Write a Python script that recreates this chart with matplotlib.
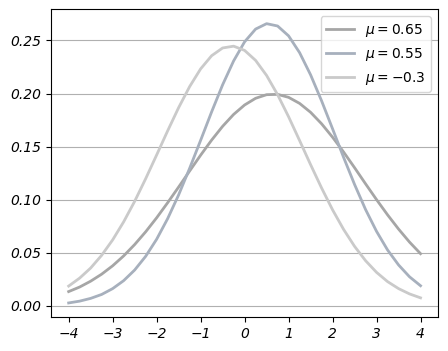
import matplotlib
matplotlib.use("Agg")
import matplotlib.pyplot as plt

x = [-4.0, -3.75, -3.5, -3.25, -3.0, -2.75, -2.5, -2.25, -2.0, -1.75, -1.5, -1.25,
     -1.0, -0.75, -0.5, -0.25, 0.0, 0.25, 0.5, 0.75, 1.0, 1.25, 1.5, 1.75,
     2.0, 2.25, 2.5, 2.75, 3.0, 3.25, 3.5, 3.75, 4.0]

y_mu_065 = [0.0134, 0.0177, 0.0232, 0.0298, 0.0377, 0.0470, 0.0577, 0.0697, 0.0829,
            0.0971, 0.1119, 0.1270, 0.1419, 0.1561, 0.1691, 0.1803, 0.1892, 0.1955,
            0.1989, 0.1992, 0.1964, 0.1907, 0.1823, 0.1715, 0.1588, 0.1449, 0.1301,
            0.1149, 0.1000, 0.0857, 0.0723, 0.0600, 0.0491]

y_mu_055 = [0.0027, 0.0044, 0.0070, 0.0107, 0.0162, 0.0237, 0.0337, 0.0466, 0.0627,
            0.0821, 0.1045, 0.1295, 0.1559, 0.1827, 0.2082, 0.2307, 0.2487, 0.2607,
            0.2658, 0.2636, 0.2543, 0.2385, 0.2176, 0.1931, 0.1667, 0.1399, 0.1143,
            0.0907, 0.0701, 0.0526, 0.0385, 0.0273, 0.0189]

y_mu_m03 = [0.0186, 0.0261, 0.0356, 0.0476, 0.0621, 0.0791, 0.0984, 0.1197, 0.1421,
            0.1648, 0.1867, 0.2065, 0.2232, 0.2356, 0.2429, 0.2446, 0.2406, 0.2312,
            0.2170, 0.1989, 0.1781, 0.1557, 0.1330, 0.1110, 0.0904, 0.0720, 0.0560,
            0.0425, 0.0315, 0.0228, 0.0162, 0.0112, 0.0075]

labels = [r"$\mu = 0.65$", r"$\mu = 0.55$", r"$\mu = -0.3$"]
colors = ["#a6a6a6", "#a7b0bd", "#cacaca"]
yticks = [0.00, 0.05, 0.10, 0.15, 0.20, 0.25]
xticks = [-4, -3, -2, -1, 0, 1, 2, 3, 4]

fig = plt.figure(figsize=(4.48, 3.51), dpi=100)
ax = fig.add_axes([0.114, 0.097, 0.864, 0.877])

for ys, lab, c in zip([y_mu_065, y_mu_055, y_mu_m03], labels, colors):
    ax.plot(x, ys, color=c, lw=2, label=lab, solid_joinstyle="round")

ax.set_xlim(-4.4, 4.4)
ax.set_ylim(-0.0105, 0.2795)
ax.set_xticks(xticks)
ax.set_yticks(yticks)
ax.set_xticklabels([f"{t}" if t >= 0 else f"\u2212{abs(t)}" for t in xticks], style="italic")
ax.set_yticklabels([f"{t:.2f}" for t in yticks], style="italic")
ax.yaxis.grid(True, color="#b0b0b0", lw=0.8)
ax.set_axisbelow(True)
ax.legend(loc="upper right")

fig.savefig("out.png", dpi=100)
